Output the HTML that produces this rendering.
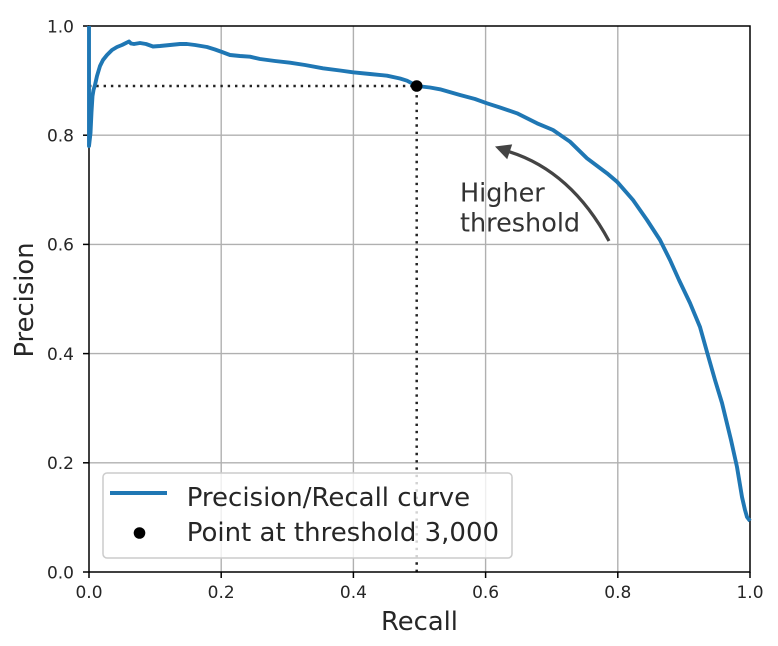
<!DOCTYPE html>
<html>
<head>
<meta charset="utf-8">
<style>
  html, body { margin: 0; padding: 0; background: #ffffff; }
  svg { display: block; }
  text { font-family: "DejaVu Sans", "Liberation Sans", sans-serif; }
</style>
</head>
<body>
<svg width="778" height="646" viewBox="0 0 778 646" xmlns="http://www.w3.org/2000/svg">
  <rect x="0" y="0" width="778" height="646" fill="#ffffff"/>

  <!-- grid -->
  <g stroke="#b0b0b0" stroke-width="1.4" fill="none">
    <line x1="221.2" y1="26" x2="221.2" y2="572"/>
    <line x1="353.4" y1="26" x2="353.4" y2="572"/>
    <line x1="485.6" y1="26" x2="485.6" y2="572"/>
    <line x1="617.8" y1="26" x2="617.8" y2="572"/>
    <line x1="89" y1="462.8" x2="750" y2="462.8"/>
    <line x1="89" y1="353.6" x2="750" y2="353.6"/>
    <line x1="89" y1="244.4" x2="750" y2="244.4"/>
    <line x1="89" y1="135.2" x2="750" y2="135.2"/>
  </g>

  <!-- dotted guide lines -->
  <g stroke="#222222" stroke-width="2.5" stroke-dasharray="2.4 4.9" fill="none">
    <line x1="416.7" y1="572" x2="416.7" y2="86"/>
    <line x1="89" y1="86" x2="416.7" y2="86"/>
  </g>

  <!-- spines -->
  <rect x="89" y="26" width="661" height="546" fill="none" stroke="#000000" stroke-width="1.5"/>

  <!-- ticks -->
  <g stroke="#000000" stroke-width="1.5">
    <line x1="89" y1="572" x2="89" y2="578"/>
    <line x1="221.2" y1="572" x2="221.2" y2="578"/>
    <line x1="353.4" y1="572" x2="353.4" y2="578"/>
    <line x1="485.6" y1="572" x2="485.6" y2="578"/>
    <line x1="617.8" y1="572" x2="617.8" y2="578"/>
    <line x1="750" y1="572" x2="750" y2="578"/>
    <line x1="83" y1="572" x2="89" y2="572"/>
    <line x1="83" y1="462.8" x2="89" y2="462.8"/>
    <line x1="83" y1="353.6" x2="89" y2="353.6"/>
    <line x1="83" y1="244.4" x2="89" y2="244.4"/>
    <line x1="83" y1="135.2" x2="89" y2="135.2"/>
    <line x1="83" y1="26" x2="89" y2="26"/>
  </g>

  <!-- tick labels -->
  <g font-size="17" fill="#262626">
    <text x="89" y="598" text-anchor="middle">0.0</text>
    <text x="221.2" y="598" text-anchor="middle">0.2</text>
    <text x="353.4" y="598" text-anchor="middle">0.4</text>
    <text x="485.6" y="598" text-anchor="middle">0.6</text>
    <text x="617.8" y="598" text-anchor="middle">0.8</text>
    <text x="750" y="598" text-anchor="middle">1.0</text>
    <text x="74" y="578.3" text-anchor="end">0.0</text>
    <text x="74" y="469.1" text-anchor="end">0.2</text>
    <text x="74" y="359.9" text-anchor="end">0.4</text>
    <text x="74" y="250.7" text-anchor="end">0.6</text>
    <text x="74" y="141.5" text-anchor="end">0.8</text>
    <text x="74" y="32.3" text-anchor="end">1.0</text>
  </g>

  <!-- axis labels -->
  <text x="419.5" y="630" font-size="25.8" text-anchor="middle" fill="#262626">Recall</text>
  <text transform="translate(33,300) rotate(-90)" font-size="25.8" text-anchor="middle" fill="#262626">Precision</text>

  <!-- precision/recall curve -->
  <polyline fill="none" stroke="#1f77b4" stroke-width="3.9" stroke-linejoin="round" stroke-linecap="butt"
    points="89,26 89,146 90.5,133 91.5,112 92.5,96 93.5,90 95,85 97,76 100,66 103,60 107,55 112,50 117,47 122,45 126,43 129,41.5 131,43.5 134,44 140,43 146,44 153,46.5 160,46 170,45 180,44 187,44 195,45 207,47 215,49.5 222,52 230,55 240,56 250,56.7 260,59 275,61 290,62.7 305,65 323,68.3 340,70.5 353,72.3 370,74 387,75.7 400,78.5 407,80.7 417,86 430,87.5 440,89.3 460,95 475,99 487,103.3 500,107.5 517,113.3 537,123.3 553,130 570,141.7 587,158.3 607,173.3 617,181.7 633,200 647,220 660,240 670,260 679,280 690,303 700,327 707,352 715,380 722,403 731,440 737,467 742,497 745,510 747,517 750,521"/>

  <!-- threshold point -->
  <circle cx="416.7" cy="86" r="5.8" fill="#000000"/>

  <!-- arrow -->
  <path d="M609,241 Q571.4,171.4 509.5,151.8" fill="none" stroke="#444444" stroke-width="3.2"/>
  <polygon points="495,146.5 512.2,144.4 507.2,159.2" fill="#444444"/>

  <!-- annotation text -->
  <text x="460" y="201.5" font-size="25.5" fill="#333333">Higher</text>
  <text x="460" y="231.5" font-size="25.5" fill="#333333">threshold</text>

  <!-- legend -->
  <rect x="103" y="473" width="409" height="85" rx="4" ry="4" fill="#ffffff" fill-opacity="0.8" stroke="#cccccc" stroke-width="1.5"/>
  <line x1="110" y1="493" x2="167" y2="493" stroke="#1f77b4" stroke-width="3.9"/>
  <circle cx="139.5" cy="533" r="5.8" fill="#000000"/>
  <text x="186.7" y="506" font-size="26" fill="#262626">Precision/Recall curve</text>
  <text x="186.7" y="541" font-size="26" fill="#262626">Point at threshold 3,000</text>
</svg>
</body>
</html>
